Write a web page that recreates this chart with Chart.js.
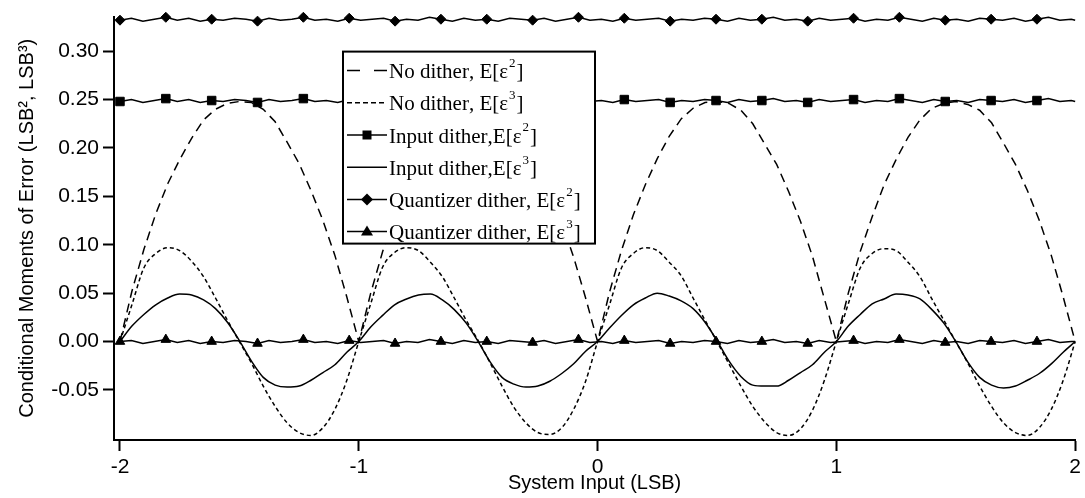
<!DOCTYPE html>
<html lang="en">
  <head>
    <meta charset="UTF-8" />
    <script src="https://cdn.jsdelivr.net/npm/chart.js@4.4.0/dist/chart.umd.min.js"></script>
    <title>conditional moments</title>
    <style>
      body {
        margin: 0;
        padding: 0;
        background: #fff;
      }

      .container {
        position: relative;
        width: 1085px;
        height: 498px;
      }
    </style>
  </head>
  <body>
    <div class="container">
      <canvas id="chart"></canvas>
    </div>
    <script>
      // sampling grids along the input axis (LSB)
      const xSmooth = Array.from({ length: 81 }, (_, i) => +(-2 + i * 0.05).toFixed(3))
      const xNoisy = Array.from({ length: 84 }, (_, i) => +(-2 + i * 0.048).toFixed(3)).concat([2])
      const xTicks = [-2, -1, 0, 1, 2]
      const yTicks = [-0.05, 0, 0.05, 0.1, 0.15, 0.2, 0.25, 0.3]

      // values
      const noDither2 = [
        0, 0.052, 0.095, 0.132, 0.163, 0.188, 0.21, 0.229, 0.24, 0.246, 0.248, 0.247, 0.24, 0.227, 0.206, 0.184, 0.156, 0.125, 0.089, 0.046, 0,
        0.05, 0.093, 0.13, 0.161, 0.187, 0.211, 0.231, 0.242, 0.247, 0.249, 0.246, 0.238, 0.226, 0.205, 0.182, 0.154, 0.123, 0.087, 0.045, 0,
        0.051, 0.094, 0.131, 0.162, 0.189, 0.212, 0.23, 0.241, 0.247, 0.248, 0.246, 0.239, 0.225, 0.204, 0.183, 0.155, 0.124, 0.088, 0.044, 0,
        0.05, 0.093, 0.129, 0.162, 0.188, 0.211, 0.229, 0.241, 0.246, 0.248, 0.245, 0.239, 0.226, 0.205, 0.183, 0.156, 0.125, 0.089, 0.046, 0,
      ]
      const noDither3 = [
        0, 0.038, 0.076, 0.091, 0.097, 0.094, 0.083, 0.067, 0.045, 0.022, 0, -0.022, -0.046, -0.067, -0.084, -0.094, -0.097, -0.089, -0.07, -0.04, 0,
        0.039, 0.077, 0.092, 0.097, 0.094, 0.082, 0.067, 0.045, 0.022, 0.001, -0.022, -0.046, -0.068, -0.084, -0.094, -0.096, -0.089, -0.07, -0.041, 0,
        0.038, 0.076, 0.091, 0.097, 0.094, 0.082, 0.068, 0.045, 0.022, 0, -0.023, -0.046, -0.067, -0.083, -0.094, -0.097, -0.09, -0.071, -0.04, 0,
        0.039, 0.076, 0.091, 0.096, 0.094, 0.082, 0.067, 0.044, 0.022, 0, -0.022, -0.046, -0.067, -0.084, -0.094, -0.097, -0.089, -0.07, -0.04, 0,
      ]
      const inputDither3 = [
        0, 0.016, 0.028, 0.038, 0.045, 0.049, 0.048, 0.043, 0.034, 0.02, 0.001, -0.02, -0.037, -0.045, -0.047, -0.046, -0.04, -0.032, -0.024, -0.011, 0,
        0.015, 0.027, 0.038, 0.044, 0.048, 0.049, 0.043, 0.033, 0.019, 0, -0.021, -0.037, -0.044, -0.047, -0.046, -0.041, -0.033, -0.023, -0.01, 0,
        0.014, 0.027, 0.038, 0.045, 0.05, 0.047, 0.042, 0.034, 0.02, 0.001, -0.02, -0.036, -0.045, -0.046, -0.046, -0.04, -0.032, -0.024, -0.011, 0,
        0.016, 0.028, 0.039, 0.044, 0.049, 0.048, 0.044, 0.033, 0.019, 0, -0.021, -0.037, -0.045, -0.048, -0.046, -0.04, -0.033, -0.023, -0.011, 0,
      ]
      const inputDither2 = [
        0.248, 0.25, 0.247, 0.249, 0.251, 0.248, 0.25, 0.247, 0.249, 0.248,
        0.25, 0.249, 0.247, 0.25, 0.248, 0.249, 0.251, 0.248, 0.249, 0.247,
        0.25, 0.248, 0.249, 0.25, 0.247, 0.249, 0.248, 0.251, 0.249, 0.247,
        0.25, 0.248, 0.249, 0.247, 0.25, 0.249, 0.248, 0.25, 0.247, 0.249,
        0.251, 0.248, 0.249, 0.247, 0.25, 0.248, 0.249, 0.25, 0.247, 0.249,
        0.248, 0.25, 0.249, 0.247, 0.25, 0.248, 0.249, 0.251, 0.248, 0.249,
        0.247, 0.25, 0.248, 0.249, 0.25, 0.247, 0.249, 0.248, 0.251, 0.249,
        0.247, 0.25, 0.248, 0.249, 0.247, 0.25, 0.249, 0.248, 0.25, 0.247,
        0.249, 0.251, 0.248, 0.249, 0.248,
      ]
      const quantDither2 = [
        0.332, 0.334, 0.331, 0.333, 0.335, 0.332, 0.334, 0.331, 0.333, 0.332,
        0.334, 0.333, 0.331, 0.334, 0.332, 0.333, 0.335, 0.332, 0.333, 0.331,
        0.334, 0.332, 0.333, 0.334, 0.331, 0.333, 0.332, 0.335, 0.333, 0.331,
        0.334, 0.332, 0.333, 0.331, 0.334, 0.333, 0.332, 0.334, 0.331, 0.333,
        0.335, 0.332, 0.333, 0.331, 0.334, 0.332, 0.333, 0.334, 0.331, 0.333,
        0.332, 0.334, 0.333, 0.331, 0.334, 0.332, 0.333, 0.335, 0.332, 0.333,
        0.331, 0.334, 0.332, 0.333, 0.334, 0.331, 0.333, 0.332, 0.335, 0.333,
        0.331, 0.334, 0.332, 0.333, 0.331, 0.334, 0.333, 0.332, 0.334, 0.331,
        0.333, 0.335, 0.332, 0.333, 0.332,
      ]
      const quantDither3 = [
        0, 0.001, -0.002, 0, 0.002, -0.001, 0.001, -0.002, 0, -0.001,
        0.001, 0, -0.002, 0.001, -0.001, 0, 0.002, -0.001, 0, -0.002,
        0.001, -0.001, 0, 0.001, -0.002, 0, -0.001, 0.002, 0, -0.002,
        0.001, -0.001, 0, -0.002, 0.001, 0, -0.001, 0.001, -0.002, 0,
        0.002, -0.001, 0, -0.002, 0.001, -0.001, 0, 0.001, -0.002, 0,
        -0.001, 0.001, 0, -0.002, 0.001, -0.001, 0, 0.002, -0.001, 0,
        -0.002, 0.001, -0.001, 0, 0.001, -0.002, 0, -0.001, 0.002, 0,
        -0.002, 0.001, -0.001, 0, -0.002, 0.001, 0, -0.001, 0.001, -0.002,
        0, 0.002, -0.001, 0, 0,
      ]

      const sans = "'Liberation Sans', Arial, sans-serif"
      const serif = "'Liberation Serif', 'Times New Roman', serif"

      const markerEvery = (r) => (c) => (c.dataIndex % 4 === 0 && c.dataIndex < 84 ? r : 0)

      const series = (label, xs, ys, extra) => ({
        label,
        data: xs.map((x, i) => ({ x, y: ys[i] })),
        borderColor: '#000',
        backgroundColor: '#000',
        borderWidth: 1.5,
        pointRadius: 0,
        pointHoverRadius: 0,
        pointBorderWidth: 1,
        tension: 0,
        clip: false,
        ...extra,
      })

      const legendStyles = [
        { dash: [13, 14] },
        { dash: [5, 3] },
        { dash: [], marker: 'rect' },
        { dash: [] },
        { dash: [], marker: 'diamond' },
        { dash: [], marker: 'triangle' },
      ]

      const drawMarker = (c, kind, x, y) => {
        c.beginPath()
        if (kind === 'rect') {
          c.rect(x - 4.5, y - 4.5, 9, 9)
        } else if (kind === 'diamond') {
          c.moveTo(x, y - 6)
          c.lineTo(x + 6, y)
          c.lineTo(x, y + 6)
          c.lineTo(x - 6, y)
          c.closePath()
        } else if (kind === 'triangle') {
          c.moveTo(x, y - 6)
          c.lineTo(x + 6, y + 4)
          c.lineTo(x - 6, y + 4)
          c.closePath()
        }
        c.fill()
      }

      // label text with ² / ³ drawn as raised small digits
      const sup = { '²': '2', '³': '3' }
      const drawLabel = (c, text, x, y) => {
        let cx = x
        for (const ch of text) {
          if (sup[ch]) {
            c.font = '13px ' + serif
            c.fillText(sup[ch], cx + 1, y - 9)
            cx += c.measureText(sup[ch]).width + 2
          } else {
            c.font = '21px ' + serif
            c.fillText(ch, cx, y)
            cx += c.measureText(ch).width
          }
        }
      }

      const boxLegend = {
        id: 'boxLegend',
        afterDraw(chart) {
          const c = chart.ctx
          const area = chart.chartArea
          const left = area.left + 229
          const top = area.top + 35
          const w = 252
          const h = 192
          c.save()
          c.fillStyle = '#fff'
          c.fillRect(left, top, w, h)
          c.strokeStyle = '#000'
          c.lineWidth = 2
          c.strokeRect(left, top, w, h)
          c.textBaseline = 'middle'
          chart.data.datasets.forEach((ds, i) => {
            const st = legendStyles[i]
            const y = top + 19 + i * 32.2
            c.lineWidth = 1.5
            c.setLineDash(st.dash)
            c.beginPath()
            c.moveTo(left + 4, y)
            c.lineTo(left + 44, y)
            c.stroke()
            c.setLineDash([])
            c.fillStyle = '#000'
            if (st.marker) drawMarker(c, st.marker, left + 24, y)
            drawLabel(c, ds.label, left + 46, y + 2)
          })
          c.restore()
        },
      }

      const ctx = document.getElementById('chart').getContext('2d')
      const chart = new Chart(ctx, {
        type: 'line',
        data: {
          datasets: [
            series('No dither, E[ε²]', xSmooth, noDither2, { borderDash: [9, 6] }),
            series('No dither, E[ε³]', xSmooth, noDither3, { borderDash: [4, 3], cubicInterpolationMode: 'monotone' }),
            series('Input dither,E[ε²]', xNoisy, inputDither2, { pointStyle: 'rect', pointRadius: markerEvery(6) }),
            series('Input dither,E[ε³]', xSmooth, inputDither3, { cubicInterpolationMode: 'monotone' }),
            series('Quantizer dither, E[ε²]', xNoisy, quantDither2, { pointStyle: 'rectRot', pointRadius: markerEvery(5) }),
            series('Quantizer dither, E[ε³]', xNoisy, quantDither3, { pointStyle: 'triangle', pointRadius: markerEvery(5.5) }),
          ],
        },
        plugins: [boxLegend],
        options: {
          animation: false,
          responsive: true,
          maintainAspectRatio: false,
          layout: {
            autoPadding: false,
            padding: { top: 10, right: 7, bottom: 0, left: 0 },
          },
          plugins: {
            legend: { display: false },
            tooltip: { enabled: false },
          },
          scales: {
            x: {
              type: 'linear',
              min: -2.025,
              max: 2,
              afterBuildTicks: (axis) => {
                axis.ticks = xTicks.map((v) => ({ value: v }))
              },
              afterFit: (s) => {
                s.height = 58
              },
              grid: {
                drawOnChartArea: false,
                drawTicks: true,
                tickLength: 11,
                tickColor: '#000',
                tickWidth: 2,
              },
              border: { color: '#000', width: 2 },
              ticks: {
                color: '#000',
                font: { family: sans, size: 21 },
                padding: 4,
                maxRotation: 0,
                callback: (v) => String(v),
              },
              title: {
                display: true,
                text: 'System Input (LSB)',
                color: '#000',
                font: { family: sans, size: 20 },
                padding: { top: 0, bottom: 3 },
              },
            },
            y: {
              min: -0.1017,
              max: 0.3357,
              afterBuildTicks: (axis) => {
                axis.ticks = yTicks.map((v) => ({ value: v }))
              },
              afterFit: (s) => {
                s.width = 114
              },
              grid: {
                drawOnChartArea: false,
                drawTicks: true,
                tickLength: 11,
                tickColor: '#000',
                tickWidth: 2,
              },
              border: { color: '#000', width: 2 },
              ticks: {
                color: '#000',
                font: { family: sans, size: 21 },
                padding: 4,
                callback: (v) => v.toFixed(2),
              },
              title: {
                display: true,
                text: 'Conditional Moments of Error (LSB², LSB³)',
                color: '#000',
                font: { family: sans, size: 20 },
                padding: { top: 15, bottom: 0 },
              },
            },
          },
        },
      })
    </script>
  </body>
</html>
